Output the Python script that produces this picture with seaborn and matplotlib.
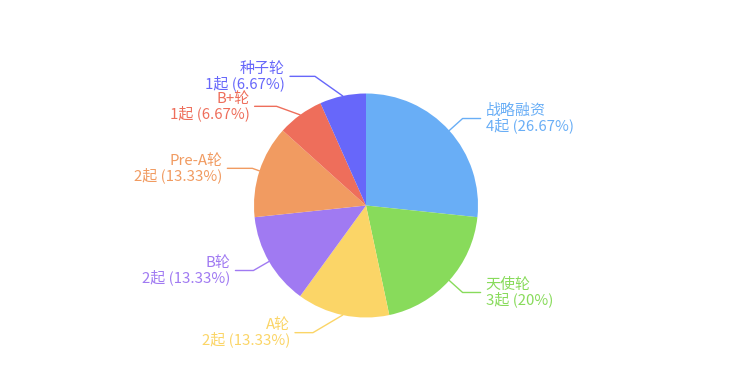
import numpy as np
import matplotlib
matplotlib.use("Agg")
import matplotlib.pyplot as plt
import seaborn as sns

# 数据
rounds = ["战略融资", "天使轮", "A轮", "B轮", "Pre-A轮", "B+轮", "种子轮"]
counts = [4, 3, 2, 2, 2, 1, 1]
colors = ["#69aef6", "#88db5b", "#fbd567", "#a07af2", "#f19b61", "#ee6e5b", "#6767fa"]

sns.set_theme(style="white")
plt.rcParams["font.family"] = ["Noto Sans CJK SC", "DejaVu Sans"]

W, H = 732, 375
fig = plt.figure(figsize=(W / 100, H / 100), dpi=100)
ax = fig.add_axes([0, 0, 1, 1])

cx, cy, r = 366, H - 205.5, 112
wedges, _ = ax.pie(counts, colors=colors, startangle=90, counterclock=False,
                   center=(cx, cy), radius=r,
                   wedgeprops=dict(linewidth=0, antialiased=True))

# 标签引导线 (pixel nudges for overlap, y down)
L1 = 18
nudge = {2: (-26, 0), 4: (10, 3), 5: (-13, 6), 6: (-24, -2)}
L2 = {4: 25, 5: 22, 6: 25}
total = sum(counts)
cum = 0
for i, (name, v, col) in enumerate(zip(rounds, counts, colors)):
    mid = 90 - (cum + v / 2) / total * 360
    cum += v
    t = np.deg2rad(mid)
    p0 = (cx + r * np.cos(t), cy + r * np.sin(t))
    dx, dy = nudge.get(i, (0, 0))
    p1 = (cx + (r + L1) * np.cos(t) + dx, cy + (r + L1) * np.sin(t) - dy)
    side = 1 if np.cos(t) >= 0 else -1
    p2 = (p1[0] + side * L2.get(i, 18), p1[1])
    ax.plot([p0[0], p1[0], p2[0]], [p0[1], p1[1], p2[1]], color=col, lw=1)
    pct = v / total * 100
    pct_s = f"{pct:.2f}".rstrip("0").rstrip(".")
    ax.text(p2[0] + side * 5, p2[1], f"{name}\n{v}起 ({pct_s}%)",
            ha="left" if side > 0 else "right", va="center",
            color=col, fontsize=10.8, linespacing=0.95)

ax.set_xlim(0, W)
ax.set_ylim(0, H)
ax.set_aspect("auto")
ax.axis("off")

fig.savefig("out.png", dpi=100)
